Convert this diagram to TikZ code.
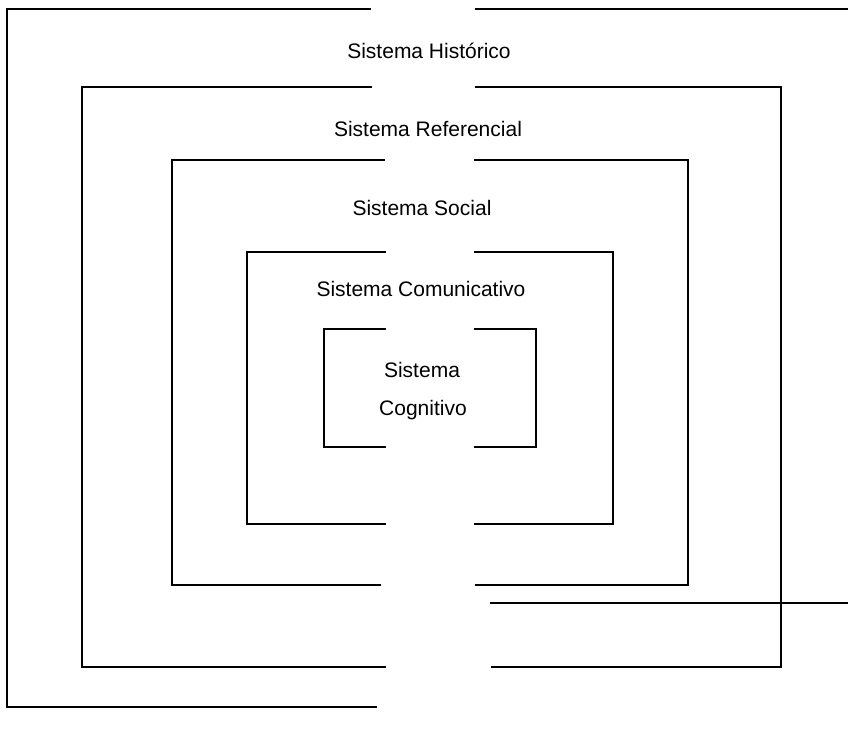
\documentclass[tikz,border=0pt]{standalone}
\usepackage{fontspec}
\setmainfont{Liberation Sans}
\begin{document}
\begin{tikzpicture}[x=1pt,y=-1pt,
  frame/.style={line width=1.3pt,line cap=rect,black},
  lbl/.style={font=\fontsize{21}{24}\selectfont,inner sep=0pt,anchor=base}]
\useasboundingbox[fill=white] (0,0) rectangle (848,736);
% outer box (Sistema Historico)
\draw[frame] (370,9) -- (7,9) -- (7,707) -- (376,707);
\draw[frame] (476,9) -- (848,9);
\draw[frame] (491,603) -- (848,603);
% Referencial
\draw[frame] (371,87) -- (82,87) -- (82,667) -- (385,667);
\draw[frame] (476,87) -- (781,87) -- (781,667) -- (492,667);
% Social
\draw[frame] (384,160) -- (172,160) -- (172,585) -- (380,585);
\draw[frame] (475,160) -- (688,160) -- (688,585) -- (476,585);
% Comunicativo
\draw[frame] (385,252) -- (247,252) -- (247,524) -- (385,524);
\draw[frame] (475,252) -- (613,252) -- (613,524) -- (475,524);
% Cognitivo
\draw[frame] (385,329) -- (324,329) -- (324,447) -- (385,447);
\draw[frame] (475,329) -- (536,329) -- (536,447) -- (475,447);
% labels
\node[lbl] (hist) at (429,58) {Sistema Histórico};
\node[lbl] (ref) at (428,136) {Sistema Referencial};
\node[lbl] (soc) at (422,215) {Sistema Social};
\node[lbl] (com) at (421,296) {Sistema Comunicativo};
\node[lbl] (cog1) at (422,377) {Sistema};
\node[lbl] (cog2) at (423,415) {Cognitivo};
\end{tikzpicture}
\end{document}
